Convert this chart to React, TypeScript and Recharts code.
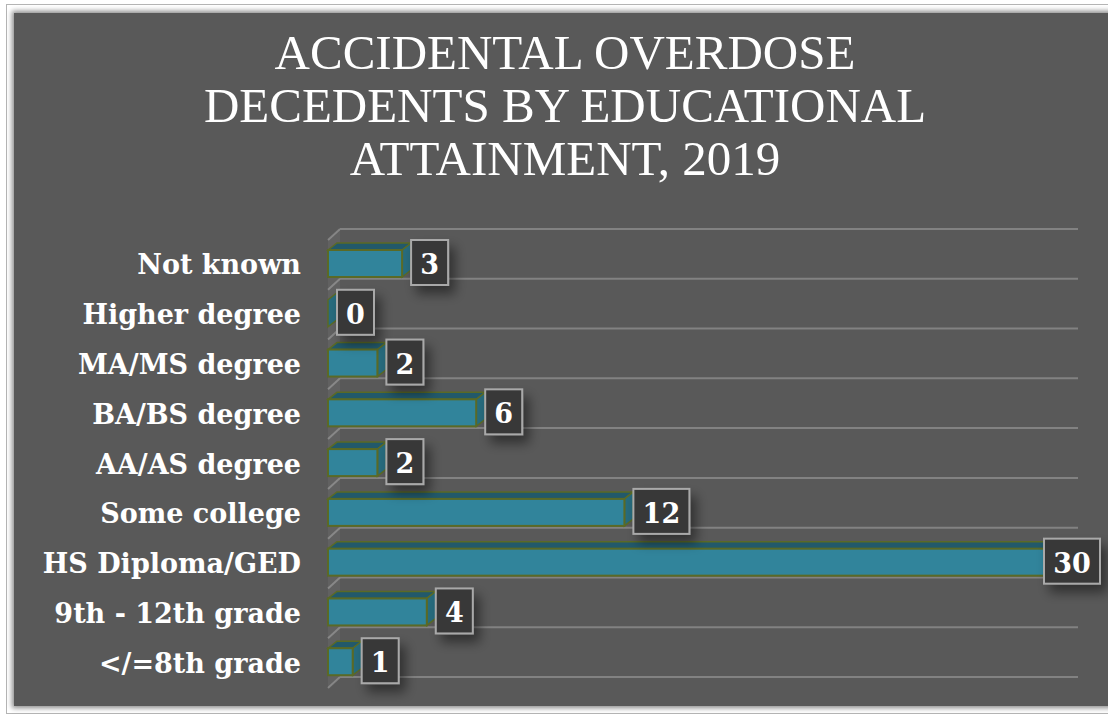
import React from 'react';
import { BarChart, Bar, XAxis, YAxis, CartesianGrid, LabelList } from 'recharts';

const categories = [
  'Not known',
  'Higher degree',
  'MA/MS degree',
  'BA/BS degree',
  'AA/AS degree',
  'Some college',
  'HS Diploma/GED',
  '9th - 12th grade',
  '</=8th grade',
];
const decedents = [3, 0, 2, 6, 2, 12, 30, 4, 1];
const titleLines = ['ACCIDENTAL OVERDOSE', 'DECEDENTS BY EDUCATIONAL', 'ATTAINMENT, 2019'];

const data = categories.map((name, i) => ({ name, value: decedents[i] }));

const DX = 9;
const DY = 7;
const FRONT = '#31849B';
const TOP = '#22596A';
const SIDE = '#276B7D';
const EDGE = '#5A6A26';
const SERIF = '"DejaVu Serif", serif';

const Bar3D = (props: any) => {
  const { x, y, width, height } = props;
  const w = Math.max(0, width);
  const top = y - 1;
  return (
    <g>
      {w > 0 && (
        <polygon
          points={`${x},${top} ${x + DX},${top - DY} ${x + w + DX},${top - DY} ${x + w},${top}`}
          fill={TOP}
          stroke={EDGE}
          strokeWidth={1.5}
        />
      )}
      <polygon
        points={`${x + w},${top} ${x + w + DX},${top - DY} ${x + w + DX},${top + height - DY} ${x + w},${top + height}`}
        fill={SIDE}
        stroke={EDGE}
        strokeWidth={1.5}
      />
      {w > 0 && <rect x={x} y={top} width={w} height={height} fill={FRONT} stroke={EDGE} strokeWidth={2} />}
    </g>
  );
};

const ValueBox = (props: any) => {
  const { x, y, width, height, value } = props;
  const bw = String(value).length > 1 ? 56 : 37;
  const bh = 45;
  let left = Number(x) + Math.max(0, Number(width)) + 9;
  if (left + bw > 1100) left = 1100 - bw;
  const cy = Number(y) + Number(height) / 2 - 2;
  return (
    <g>
      <rect
        x={left}
        y={cy - bh / 2}
        width={bw}
        height={bh}
        fill="#383838"
        stroke="#a9a9a9"
        strokeWidth={2}
        filter="url(#boxShadow)"
      />
      <text
        x={left + bw / 2}
        y={cy + 2}
        textAnchor="middle"
        dominantBaseline="central"
        fill="#ffffff"
        fontFamily={SERIF}
        fontWeight="bold"
        fontSize={27}
      >
        {value}
      </text>
    </g>
  );
};

const GridLine = (props: any) => {
  const { x1, y1, x2 } = props;
  return (
    <g key={props.key}>
      <line x1={x1 + 12} y1={y1 - 11} x2={x2 + 9} y2={y1 - 11} stroke="#828282" strokeWidth={2} />
      <line x1={x1} y1={y1} x2={x1 + 12} y2={y1 - 11} stroke="#828282" strokeWidth={2} />
    </g>
  );
};

const WallLine = (props: any) => {
  const { x1, y1, y2 } = props;
  return (
    <polygon
      key={props.key}
      points={`${x1},${y1} ${x1 + 12},${y1 - 11} ${x1 + 12},${y2 - 11} ${x1},${y2}`}
      fill="rgba(255,255,255,0.05)"
    />
  );
};

export default function App() {
  return (
    <div style={{ position: 'fixed', left: 0, top: 0, width: 1108, height: 717, background: '#ffffff', overflow: 'hidden' }}>
      <div
        style={{
          position: 'absolute',
          left: 6,
          top: 4,
          width: 1110,
          height: 708,
          border: '1px solid #b4b4b4',
          background: '#ffffff',
        }}
      />
      <div
        style={{
          position: 'absolute',
          left: 14,
          top: 13,
          width: 1100,
          height: 693,
          background: '#595959',
          boxShadow: '0 0 5px 2px #8a8a8a',
        }}
      />
      <div
        style={{
          position: 'absolute',
          left: 14,
          top: 26,
          width: 1102,
          textAlign: 'center',
          color: '#ffffff',
          fontFamily: '"Liberation Serif", serif',
          fontSize: 49,
          lineHeight: '53px',
        }}
      >
        {titleLines.map((t) => (
          <div key={t}>{t}</div>
        ))}
      </div>
      <div style={{ position: 'absolute', left: 0, top: 0 }}>
        <BarChart
          width={1108}
          height={717}
          data={data}
          layout="vertical"
          margin={{ top: 240, right: 39, bottom: 29, left: 28 }}
          barSize={27}
        >
          <defs>
            <filter id="boxShadow" x="-50%" y="-50%" width="220%" height="220%">
              <feDropShadow dx={6} dy={8} stdDeviation={6} floodColor="#000000" floodOpacity={0.45} />
            </filter>
          </defs>
          <CartesianGrid
            horizontal={GridLine}
            vertical={WallLine}
            horizontalCoordinatesGenerator={({ offset }: any) =>
              Array.from({ length: categories.length + 1 }, (_, i) => offset.top + (i * offset.height) / categories.length)
            }
            verticalCoordinatesGenerator={({ offset }: any) => [offset.left]}
          />
          <XAxis type="number" domain={[0, 30]} hide />
          <YAxis
            type="category"
            dataKey="name"
            width={300}
            axisLine={false}
            tickLine={false}
            tickSize={0}
            tickMargin={27}
            interval={0}
            tick={{ fill: '#ffffff', fontFamily: SERIF, fontWeight: 'bold', fontSize: 27 }}
          />
          <Bar dataKey="value" shape={Bar3D} isAnimationActive={false}>
            <LabelList dataKey="value" content={ValueBox} />
          </Bar>
        </BarChart>
      </div>
    </div>
  );
}
